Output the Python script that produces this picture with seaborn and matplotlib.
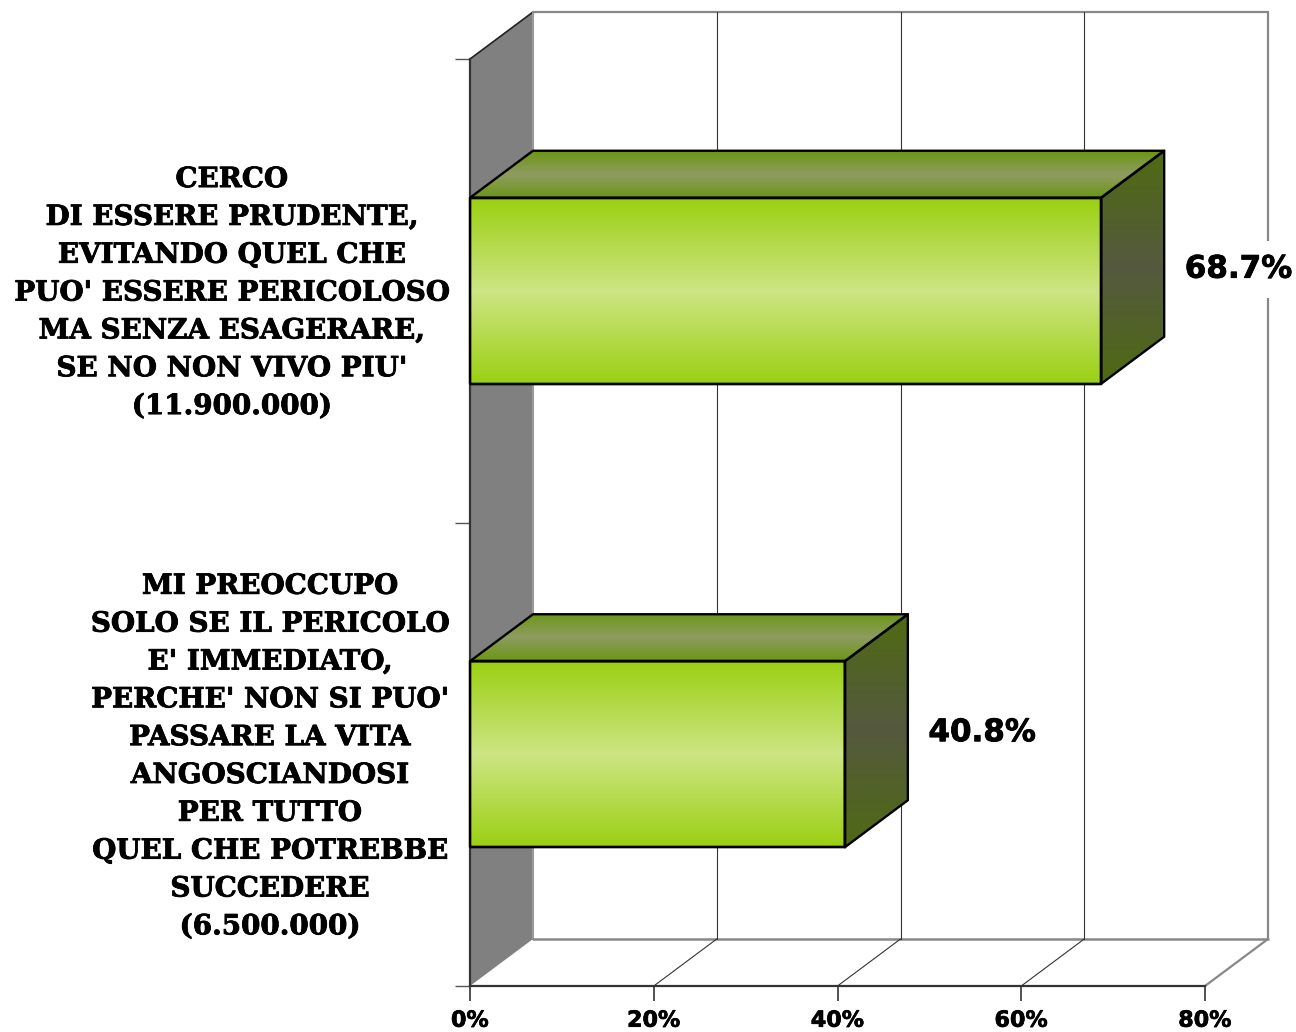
import numpy as np
import pandas as pd
import matplotlib
matplotlib.use("Agg")
import matplotlib.pyplot as plt
import matplotlib.patheffects as pe
import seaborn as sns
from matplotlib.colors import LinearSegmentedColormap
from matplotlib.patches import Polygon

# values
categories = [
    "CERCO\nDI ESSERE PRUDENTE,\nEVITANDO QUEL CHE\nPUO' ESSERE PERICOLOSO\nMA SENZA ESAGERARE,\nSE NO NON VIVO PIU'\n(11.900.000)",
    "MI PREOCCUPO\nSOLO SE IL PERICOLO\nE' IMMEDIATO,\nPERCHE' NON SI PUO'\nPASSARE LA VITA\nANGOSCIANDOSI\nPER TUTTO\nQUEL CHE POTREBBE\nSUCCEDERE\n(6.500.000)",
]
values = [68.7, 40.8]
value_labels = ["68.7%", "40.8%"]
x_ticks = [0, 20, 40, 60, 80]
x_tick_labels = ["0%", "20%", "40%", "60%", "80%"]

sns.set_theme(style="white")

fig = plt.figure(figsize=(12.96, 10.32), dpi=100, facecolor="white")
ax = fig.add_axes([470 / 1296, 1 - 986 / 1032, 735 / 1296, 927 / 1032])

df = pd.DataFrame({"label": categories, "value": values})
sns.barplot(data=df, y="label", x="value", orient="h", width=186 / 463.5,
            facecolor="none", edgecolor="black", linewidth=1.7, ax=ax, zorder=6)

ax.set_xlim(0, 80)
ax.set_ylim(1.5, -0.5)
ax.set_xlabel("")
ax.set_ylabel("")

# depth of the fake 3d box, in data units
dx = 80 * 63 / 735
dy = 47 / 463.5
y_top, y_bot = -0.5, 1.5

front_cmap = LinearSegmentedColormap.from_list("front", ["#9BD012", "#CDE584", "#9BD012"])
top_cmap = LinearSegmentedColormap.from_list("top", ["#6B9614", "#8E9C60", "#6B9614"])
side_cmap = LinearSegmentedColormap.from_list("side", ["#4F6A12", "#55593F", "#4F6A12"])
grad = np.linspace(0, 1, 256).reshape(-1, 1)

# slightly heavier glyphs, the original fonts are fatter than DejaVu bold
heavy = [pe.withStroke(linewidth=0.6, foreground="black")]


def shaded_face(points, cmap, zorder):
    # gradient image clipped to a polygon
    pts = np.array(points)
    patch = Polygon(pts, closed=True, transform=ax.transData, facecolor="none",
                    edgecolor="black", linewidth=1.7, zorder=zorder + 1, clip_on=False,
                    joinstyle="round")
    ax.add_patch(patch)
    im = ax.imshow(grad, cmap=cmap, aspect="auto", zorder=zorder,
                   extent=(pts[:, 0].min(), pts[:, 0].max(), pts[:, 1].max(), pts[:, 1].min()))
    im.set_clip_path(patch)
    im.set_clip_on(True)


# walls and floor
wall = Polygon([(0, y_top), (dx, y_top - dy), (dx, y_bot - dy), (0, y_bot)], closed=True,
               facecolor="#808080", edgecolor="none", zorder=1, clip_on=False)
ax.add_patch(wall)
ax.plot([0, dx], [y_top, y_top - dy], color="#222222", lw=1.2, zorder=2, clip_on=False)
ax.plot([dx, dx], [y_top - dy, y_bot - dy], color="#9a9a9a", lw=1.5, zorder=2, clip_on=False)
ax.plot([dx, 80 + dx], [y_top - dy, y_top - dy], color="#888888", lw=1.6, zorder=2, clip_on=False)
ax.plot([dx, 80 + dx], [y_bot - dy, y_bot - dy], color="#888888", lw=1.8, zorder=2, clip_on=False)

for t in x_ticks[1:]:
    col = "#888888" if t == 80 else "#333333"
    lw = 1.6 if t == 80 else 0.8
    ax.plot([t + dx, t + dx], [y_top - dy, y_bot - dy], color=col, lw=lw, zorder=2, clip_on=False)
    ax.plot([t, t + dx], [y_bot, y_bot - dy], color=col, lw=lw, zorder=2, clip_on=False)

# bars, geometry taken from seaborn's patches
for bar in list(ax.patches):
    if bar is wall or bar.get_width() < 1:
        continue
    x1 = bar.get_width()
    y0, y1 = bar.get_y(), bar.get_y() + bar.get_height()
    shaded_face([(0, y0), (x1, y0), (x1, y1), (0, y1)], front_cmap, 4)
    shaded_face([(0, y0), (dx, y0 - dy), (x1 + dx, y0 - dy), (x1, y0)], top_cmap, 4)
    shaded_face([(x1, y0), (x1 + dx, y0 - dy), (x1 + dx, y1 - dy), (x1, y1)], side_cmap, 4)

ax.set_xlim(0, 80)
ax.set_ylim(1.5, -0.5)

# value labels, white box cuts the gridline
for i, (v, lab) in enumerate(zip(values, value_labels)):
    ax.text(v + 14.95, i - 0.0465, lab, ha="center", va="center", fontsize=22.3, fontweight="bold",
            family="DejaVu Sans", color="black", zorder=8, clip_on=False, path_effects=heavy,
            bbox=dict(facecolor="white", edgecolor="none", pad=10))

# category labels
label_x = [-25.95, -21.8]
for i, lab in enumerate(categories):
    ax.text(label_x[i], i + 0.005, lab, ha="center", va="center", fontsize=20, fontweight="bold",
            family="DejaVu Serif", color="black", linespacing=1.516, clip_on=False,
            path_effects=heavy)

# axes
ax.set_xticks(x_ticks)
ax.set_xticklabels(x_tick_labels, fontsize=16, fontweight="bold", family="DejaVu Sans", color="black",
                   path_effects=[pe.withStroke(linewidth=0.5, foreground="black")])
ax.set_yticks([-0.5, 0.5, 1.5])
ax.set_yticklabels([])
ax.tick_params(axis="x", which="major", bottom=True, length=10.8, width=1.2, color="#333333", pad=7)
ax.tick_params(axis="y", which="major", left=True, length=10.8, width=1.0, color="#555555")
for s in ["top", "right"]:
    ax.spines[s].set_visible(False)
for s in ["left", "bottom"]:
    ax.spines[s].set_color("#333333")
    ax.spines[s].set_linewidth(1.6)
    ax.spines[s].set_zorder(3)
ax.patch.set_alpha(0)

plt.savefig("out.png", dpi=100)
